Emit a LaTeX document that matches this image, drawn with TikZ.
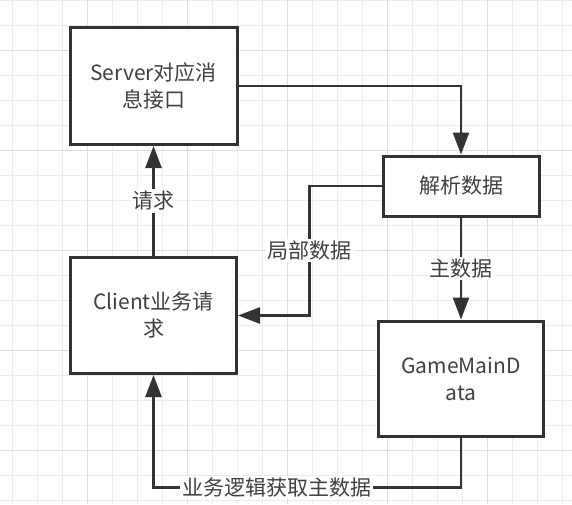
\documentclass[tikz,border=0pt]{standalone}
\usepackage{fontspec}
\setmainfont{Noto Sans CJK SC}
\usepackage{tikz}
\usetikzlibrary{positioning}
\usetikzlibrary{arrows.meta}
\usetikzlibrary{calc}
\definecolor{gridminor}{RGB}{236,236,236}
\definecolor{gridmajor}{RGB}{222,222,222}
\definecolor{inkgray}{RGB}{51,51,51}
\definecolor{textgray}{RGB}{64,64,64}

\begin{document}
\begin{tikzpicture}[x=1pt, y=1pt,
			internal/.style={draw=inkgray, rectangle, line width=3pt, fill=white, text=textgray, inner sep=4pt},
			lbl/.style={fill=white, text=textgray, inner sep=2pt},
			line/.style={draw=inkgray, line width=2.5pt, -{Triangle[length=22pt, width=16pt]}},
			every text node part/.style={align=center},
			font=\fontsize{21}{27}\selectfont]
			% background grid
			\fill[white] (0,0) rectangle (572,-504);
			\useasboundingbox (0,0) rectangle (572,-504);
			\foreach \gx in {12,37,...,572} \draw[gridminor, line width=1pt] (\gx,0) -- (\gx,-504);
			\foreach \gy in {0,-25,...,-504} \draw[gridminor, line width=1pt] (0,\gy) -- (572,\gy);
			\foreach \gx in {87,187,...,572} \draw[gridmajor, line width=1pt] (\gx,0) -- (\gx,-504);
			\foreach \gy in {-50,-150,...,-504} \draw[gridmajor, line width=1pt] (0,\gy) -- (572,\gy);
			
			\node[internal, minimum width=167pt, minimum height=117pt](node1) at (153.5, -86) {Server对应消\\息接口};
			\node[internal, minimum width=166pt, minimum height=116pt, below=110pt of node1](node4) {Client业务请\\求};
			
			\node[internal, minimum width=156pt, minimum height=60pt](node2) at (461, -186) {解析数据};
			\node[internal, minimum width=165pt, minimum height=115pt, below=102pt of node2](node3) {GameMainD\\ata};
			
			\draw[line] (node1.east) -| (node2.north);
			\draw[line] (node2.west) -- ++(-72,0) |- node[lbl, pos=0.25](lbl2) {局部数据} (node4.east);
			\draw[line] (node2.south) -- node[lbl, pos=0.5](lbl3) {主数据} (node3.north);
			\draw[line] (node3.south) -- ++(0,-50) -| node[lbl, pos=0.3](lbl4) {业务逻辑获取主数据} (node4.south);
			\draw[line] (node4.north) -- node[lbl, pos=0.5](lbl1) {请求} (node1.south);
			
		\end{tikzpicture}
\end{document}
